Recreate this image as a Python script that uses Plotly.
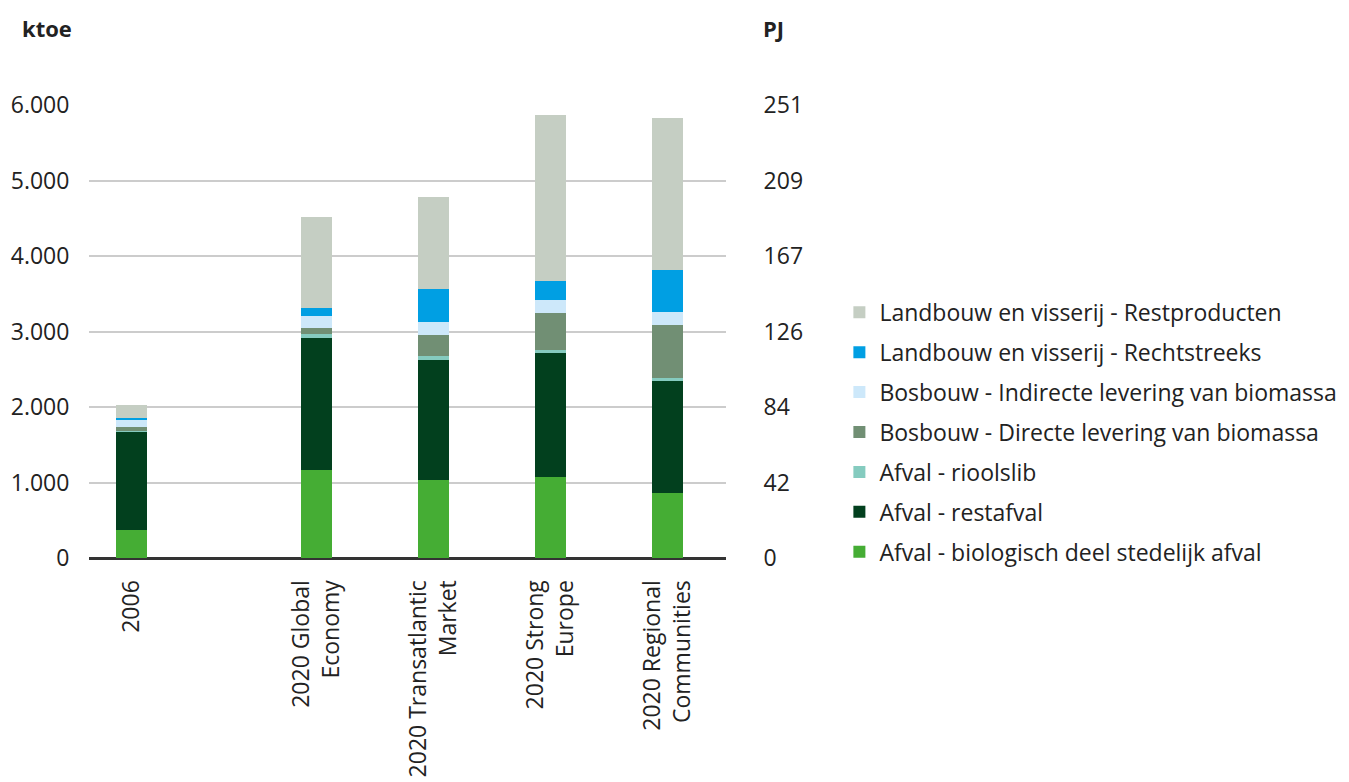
import plotly.graph_objects as go

categories = ["2006", "2020 Global<br>Economy", "2020 Transatlantic<br>Market",
              "2020 Strong<br>Europe", "2020 Regional<br>Communities"]

series_names = [
    "Afval - biologisch deel stedelijk afval",
    "Afval - restafval",
    "Afval - rioolslib",
    "Bosbouw - Directe levering van biomassa",
    "Bosbouw - Indirecte levering van biomassa",
    "Landbouw en visserij - Rechtstreeks",
    "Landbouw en visserij - Restproducten",
]

bio = [371, 1166, 1033, 1073, 861]
restafval = [1298, 1748, 1590, 1642, 1483]
rioolslib = [17, 53, 52, 40, 40]
directe = [49, 79, 279, 490, 702]
indirecte = [105, 159, 172, 172, 172]
rechtstreeks = [13, 106, 437, 252, 557]
restproducten = [172, 1206, 1218, 2199, 2013]

series_values = [bio, restafval, rioolslib, directe, indirecte, rechtstreeks, restproducten]
colors = ["#45ad34", "#02401e", "#85cbbf", "#718f74", "#cde8fa", "#009fe3", "#c5cec3"]

ktoe_ticks = [0, 1000, 2000, 3000, 4000, 5000, 6000]
ktoe_labels = ["0", "1.000", "2.000", "3.000", "4.000", "5.000", "6.000"]
PJ_PER_KTOE = 0.041868
pj_labels = [str(int(round(v * PJ_PER_KTOE))) for v in ktoe_ticks]

# layout: a wider gap after the first (historical) category
GAP = 1.58
xpos = [0] + [GAP + i for i in range(len(categories) - 1)]

FONT = "Open Sans"
TXT = "#222222"
FS = 23

fig = go.Figure()
for i, (name, vals, col) in enumerate(zip(series_names, series_values, colors)):
    fig.add_trace(go.Bar(x=xpos, y=vals, name=name, marker=dict(color=col, line=dict(width=0)),
                         width=0.265, legendgroup=name, legendrank=1000 - i))

# invisible trace to show the PJ axis
fig.add_trace(go.Scatter(x=[xpos[0]], y=[0], yaxis="y2", mode="markers",
                         marker=dict(opacity=0), showlegend=False, hoverinfo="skip"))

W, H = 1333, 774  # page body has an 8px margin
fig.update_layout(
    barmode="stack",
    width=W, height=H,
    margin=dict(l=81, r=W - 718, t=97, b=H - 550, autoexpand=False),
    plot_bgcolor="white", paper_bgcolor="white",
    font=dict(family=FONT, size=FS, color=TXT),
    xaxis=dict(range=[-0.36, xpos[-1] + 0.5], tickvals=xpos, ticktext=categories,
               tickangle=-90, showgrid=False, zeroline=False, showline=False,
               ticks="outside", ticklen=12, tickcolor="rgba(0,0,0,0)",
               tickfont=dict(size=FS, color=TXT), automargin=False),
    yaxis=dict(range=[0, 6000], tickvals=ktoe_ticks, ticktext=ktoe_labels,
               showgrid=True, gridcolor="#cccccc", gridwidth=1.5,
               zeroline=True, zerolinecolor="#333333", zerolinewidth=2.5,
               ticks="outside", ticklen=14, tickcolor="rgba(0,0,0,0)",
               tickfont=dict(size=FS, color=TXT), showline=False, automargin=False),
    yaxis2=dict(range=[0, 6000], overlaying="y", side="right", tickvals=ktoe_ticks,
                ticktext=pj_labels, showgrid=False, zeroline=False,
                ticks="outside", ticklen=32, tickcolor="rgba(0,0,0,0)",
                tickfont=dict(size=FS, color=TXT), showline=False, automargin=False),
    legend=dict(x=1.178, xanchor="left", y=-0.035, yanchor="bottom",
                traceorder="grouped", tracegroupgap=7,
                font=dict(size=FS, color=TXT), bgcolor="rgba(0,0,0,0)"),
    annotations=[
        dict(text="<b>ktoe</b>", xref="paper", yref="paper", x=-0.066, y=1.17,
             xanchor="center", yanchor="middle", showarrow=False,
             font=dict(size=22, color=TXT)),
        dict(text="<b>PJ</b>", xref="paper", yref="paper", x=1.074, y=1.17,
             xanchor="center", yanchor="middle", showarrow=False,
             font=dict(size=22, color=TXT)),
    ],
    bargap=0,
)

fig.write_html("out.html")
